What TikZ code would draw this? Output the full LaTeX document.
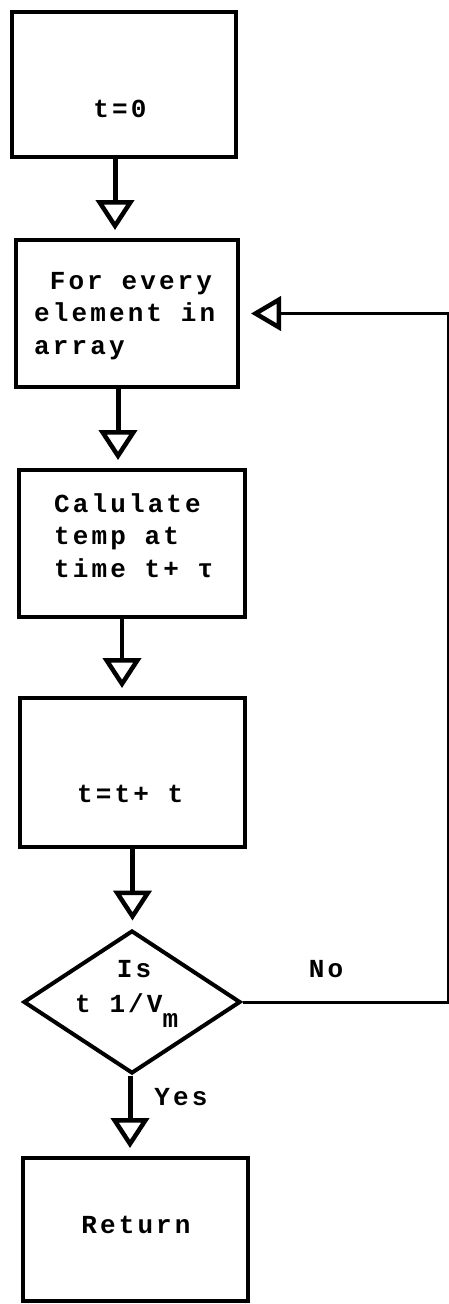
\documentclass[tikz,border=0pt]{standalone}
\usepackage{fontspec}
\usetikzlibrary{arrows.meta,shapes.geometric}
\newfontfamily\tw{Liberation Mono}[LetterSpace=12]
\begin{document}
\begin{tikzpicture}[x=1pt,y=-1pt,
  box/.style={draw, line width=4pt, inner sep=0pt},
  dia/.style={draw, diamond, line width=4pt, inner sep=0pt},
  txt/.style={font=\tw\bfseries\fontsize{26}{32.5}\selectfont, inner sep=0pt},
  flow/.style={line width=5pt, shorten >=8pt,
    -{Triangle[open, length=30pt, width=38pt, line width=4.5pt]}},
  backflow/.style={line width=3pt, shorten >=11pt,
    -{Triangle[open, length=30pt, width=34pt, line width=4.5pt]}}]
\useasboundingbox (0,0) rectangle (449,1304);

% process boxes
\node[box, minimum width=224pt, minimum height=145pt] (b1) at (124,84.5) {};
\node[box, minimum width=222pt, minimum height=147pt] (b2) at (127,313.5) {};
\node[box, minimum width=226pt, minimum height=147pt] (b3) at (132,543.5) {};
\node[box, minimum width=225pt, minimum height=149pt] (b4) at (132.5,772.5) {};
\node[dia, minimum width=217pt, minimum height=143pt] (d) at (132,1002) {};
\node[box, minimum width=225pt, minimum height=143pt] (b5) at (135.5,1229.5) {};

% box texts (multi-line nodes are anchored on their last line)
\node[txt, anchor=base] (t1) at (120,117) {t=0};
\node[txt, anchor=base west, align=left] (t2) at (34,354)
  {\hphantom{F}For every\\element in\\array};
\node[txt, anchor=base west, align=left] (t3) at (54,577)
  {Calulate\\temp at\\time t+ τ};
\node[txt, anchor=base west] (t4) at (77,802) {t=t+ t};
\node[txt, anchor=base] (q1) at (134,977) {Is};
\node[txt, anchor=base west] (q2) at (75,1012) {t 1/V\raisebox{-15pt}{m}};
\node[txt, anchor=base] (t5) at (136,1233) {Return};

% branch labels
\node[txt, anchor=base] (yes) at (181,1105) {Yes};
\node[txt, anchor=base] (no) at (326,977) {No};

% connectors
\draw[flow] ([xshift=-9pt]b1.south) -- ([xshift=-9pt]b1.south |- b2.north);
\draw[flow] ([xshift=-9pt]b2.south) -- ([xshift=-9pt]b2.south |- b3.north);
\draw[flow, line width=3.5pt] ([xshift=-10pt]b3.south) -- ([xshift=-10pt]b3.south |- b4.north);
\draw[flow] (b4.south) -- (b4.south |- d.north);
\draw[flow] ([xshift=-2pt]d.south) -- ([xshift=-2pt]d.south |- b5.north);
\draw[backflow] (d.east) -| ([xshift=208pt]b2.east) -- (b2.east);
\end{tikzpicture}
\end{document}
